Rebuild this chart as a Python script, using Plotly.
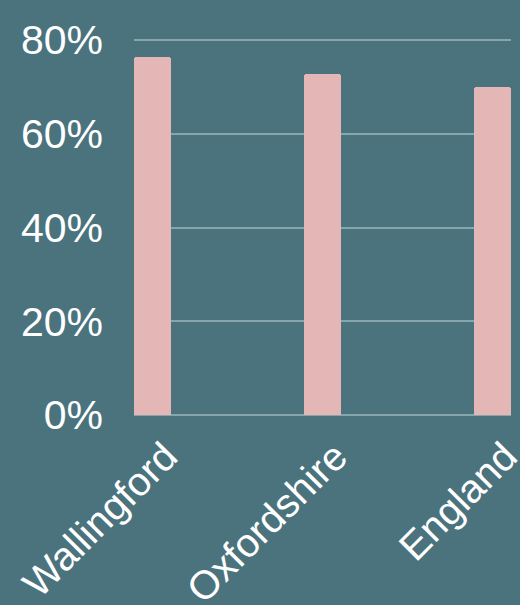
import plotly.graph_objects as go

categories = ["Wallingford", "Oxfordshire", "England"]
values = [76.4, 72.7, 70.0]
y_ticks = [0, 20, 40, 60, 80]
y_tick_labels = ["0%", "20%", "40%", "60%", "80%"]

BG = "#4a737e"
BAR = "#e4b6b5"
GRID = "#86a6ae"

fig = go.Figure(go.Bar(
    x=list(range(len(categories))),
    y=values,
    width=0.22,
    marker=dict(color=BAR, line=dict(width=0), cornerradius=3),
))

fig.update_layout(
    width=520, height=605,
    paper_bgcolor=BG, plot_bgcolor=BG,
    margin=dict(l=134, r=9, t=38, b=190, autoexpand=False),
    font=dict(family="Liberation Sans, Arial, sans-serif", color="white", size=40),
    showlegend=False,
    bargap=0,
)
fig.update_xaxes(
    range=[-0.11, 2.11], automargin=False,
    tickmode="array", tickvals=list(range(len(categories))), ticktext=categories,
    tickangle=-45, showgrid=False, zeroline=False, showline=False,
    tickfont=dict(size=40), ticklabelshift=13, ticklabelstandoff=9,
    ticklabeloverflow="allow",
)
fig.update_yaxes(
    range=[0, 80.43], automargin=False,
    tickmode="array", tickvals=y_ticks, ticktext=y_tick_labels,
    showgrid=True, gridcolor=GRID, gridwidth=1.5,
    zeroline=True, zerolinecolor=GRID, zerolinewidth=1.5,
    showline=False, ticklabelstandoff=30,
    tickfont=dict(size=41),
)

fig.write_html("out.html", config={"displayModeBar": False},
               post_script="document.body.style.margin='0';")
